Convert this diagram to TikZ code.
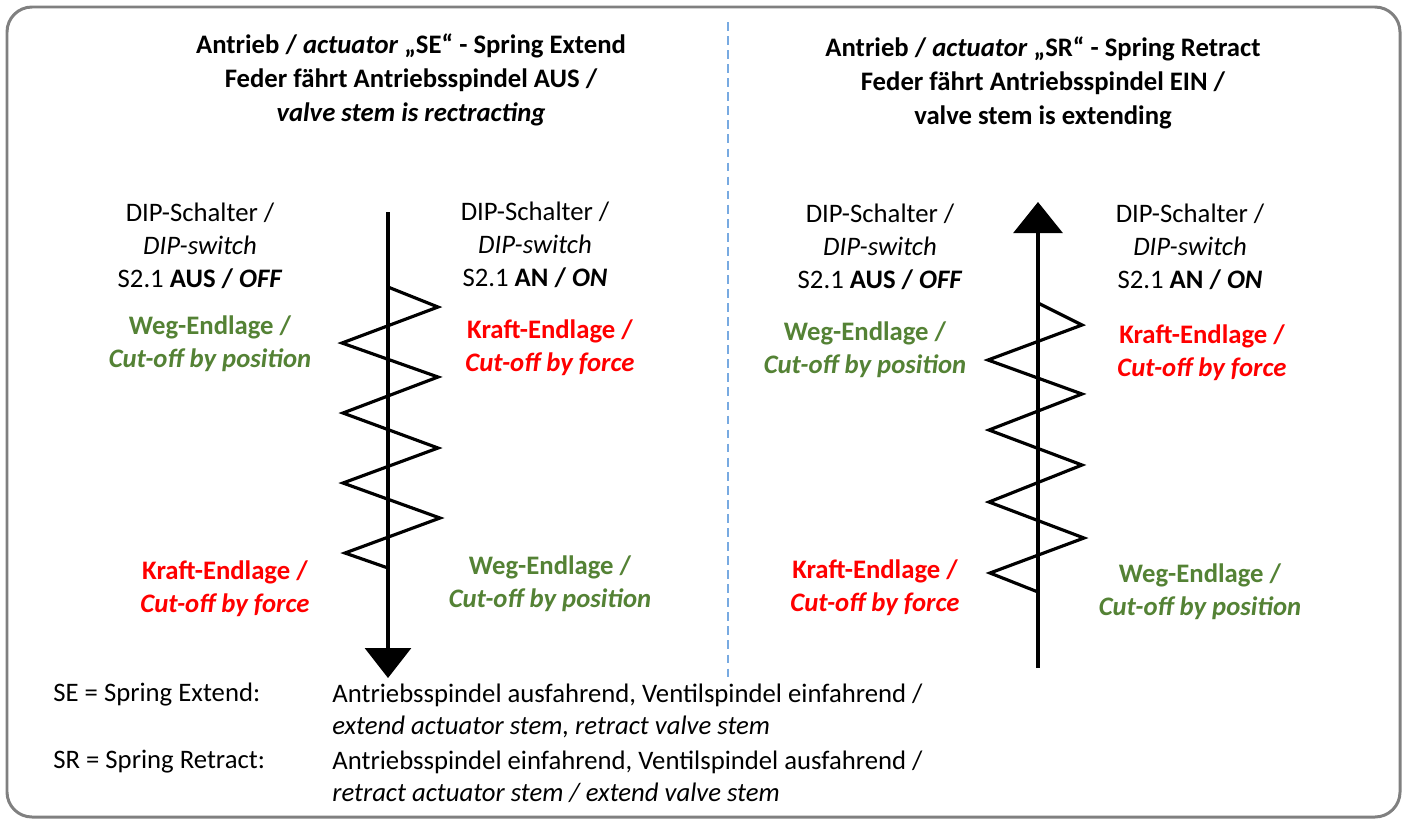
\documentclass[tikz,border=0pt]{standalone}
\usepackage{fontspec}
\setmainfont{Carlito}
\usepackage{xcolor}
\usetikzlibrary{arrows.meta,positioning}

\definecolor{wegGreen}{RGB}{84,130,53}
\definecolor{kraftRed}{RGB}{255,0,0}
\definecolor{frameGray}{RGB}{128,128,128}
\definecolor{dividerBlue}{RGB}{120,170,225}

\begin{document}
\begin{tikzpicture}[x=0.02cm, y=-0.02cm,
        lbl/.style={align=center, inner sep=0pt, font=\fontsize{15.2}{18.8}\selectfont},
        title/.style={lbl, font=\fontsize{15.2}{19.2}\selectfont\bfseries},
        weg/.style={lbl, text=wegGreen, font=\fontsize{15.2}{18.8}\selectfont\bfseries},
        kraft/.style={lbl, text=kraftRed, font=\fontsize{15.2}{18.8}\selectfont\bfseries},
        legend/.style={anchor=west, inner sep=0pt, font=\fontsize{15.2}{18}\selectfont},
        stem/.style={line width=1.8pt},
        spring/.style={line width=1.8pt, line join=miter}]
                        \useasboundingbox (0,0) rectangle (1405,819);
                        \draw[frameGray, line width=1.7pt, rounded corners=0.5cm] (7,7) rectangle (1400,817);

                        % divider
                        \coordinate (dTop) at (728,22);
                        \coordinate (dBot) at (728,682);
                        \draw[dividerBlue, line width=0.9pt, dash pattern=on 5pt off 3pt] (dTop) -- (dBot);

                        % titles
                        \node[title] (tSE) at (411,80) {Antrieb / \textit{actuator} „SE“ - Spring Extend\\Feder fährt Antriebsspindel AUS /\\\textit{valve stem is rectracting}};
                        \node[title] (tSR) at (1043,83) {Antrieb / \textit{actuator} „SR“ - Spring Retract\\Feder fährt Antriebsspindel EIN /\\valve stem is extending};

                        % DIP switch labels
                        \node[lbl] (dipSEoff) at (200,246) {DIP-Schalter /\\\textit{DIP-switch}\\S2.1 \textbf{AUS / \textit{OFF}}};
                        \node[lbl] (dipSEon) at (535,245) {DIP-Schalter /\\\textit{DIP-switch}\\S2.1 \textbf{AN / \textit{ON}}};
                        \node[lbl] (dipSRoff) at (880,247) {DIP-Schalter /\\\textit{DIP-switch}\\S2.1 \textbf{AUS / \textit{OFF}}};
                        \node[lbl] (dipSRon) at (1190,247) {DIP-Schalter /\\\textit{DIP-switch}\\S2.1 \textbf{AN / \textit{ON}}};

                        % cut-off labels
                        \node[weg] (wSEtop) at (210,344) {Weg-Endlage /\\\textit{Cut-off by position}};
                        \node[kraft] (kSEtop) at (550,348) {Kraft-Endlage /\\\textit{Cut-off by force}};
                        \node[kraft] (kSEbot) at (225,589) {Kraft-Endlage /\\\textit{Cut-off by force}};
                        \node[weg] (wSEbot) at (550,584) {Weg-Endlage /\\\textit{Cut-off by position}};
                        \node[weg] (wSRtop) at (865,350) {Weg-Endlage /\\\textit{Cut-off by position}};
                        \node[kraft] (kSRtop) at (1202,353) {Kraft-Endlage /\\\textit{Cut-off by force}};
                        \node[kraft] (kSRbot) at (875,588) {Kraft-Endlage /\\\textit{Cut-off by force}};
                        \node[weg] (wSRbot) at (1200,592) {Weg-Endlage /\\\textit{Cut-off by position}};

                        % SE stem and spring
                        \coordinate (seTop) at (388,212);
                        \coordinate (seTip) at (388,678);
                        \draw[stem, -{Triangle[width=0.92cm, length=0.6cm]}] (seTop) -- (seTip);
                        \draw[spring] (388,287) -- (438,307) -- (342,343) -- (438,377) -- (343,413)
                            -- (438,448) -- (343,483) -- (440,518) -- (345,553) -- (388,568);

                        % SR stem and spring
                        \coordinate (srBot) at (1038,668);
                        \coordinate (srTip) at (1038,202);
                        \draw[stem, -{Triangle[width=0.98cm, length=0.62cm]}] (srBot) -- (srTip);
                        \draw[spring] (1038,303) -- (1082,325) -- (988,360) -- (1082,394) -- (989,430)
                            -- (1082,465) -- (989,502) -- (1084,538) -- (990,573) -- (1038,592);

                        % legend
                        \node[legend] (kSE) at (53,695) {SE = Spring Extend:};
                        \node[legend] (kSR) at (53,762) {SR = Spring Retract:};
                        \node[legend] (dSE1) at (332,695) {Antriebsspindel ausfahrend, Ventilspindel einfahrend /};
                        \node[legend] (dSE2) at (332,727) {\textit{extend actuator stem, retract valve stem}};
                        \node[legend] (dSR1) at (332,762) {Antriebsspindel einfahrend, Ventilspindel ausfahrend /};
                        \node[legend] (dSR2) at (332,793) {\textit{retract actuator stem / extend valve stem}};
                    \end{tikzpicture}
\end{document}
